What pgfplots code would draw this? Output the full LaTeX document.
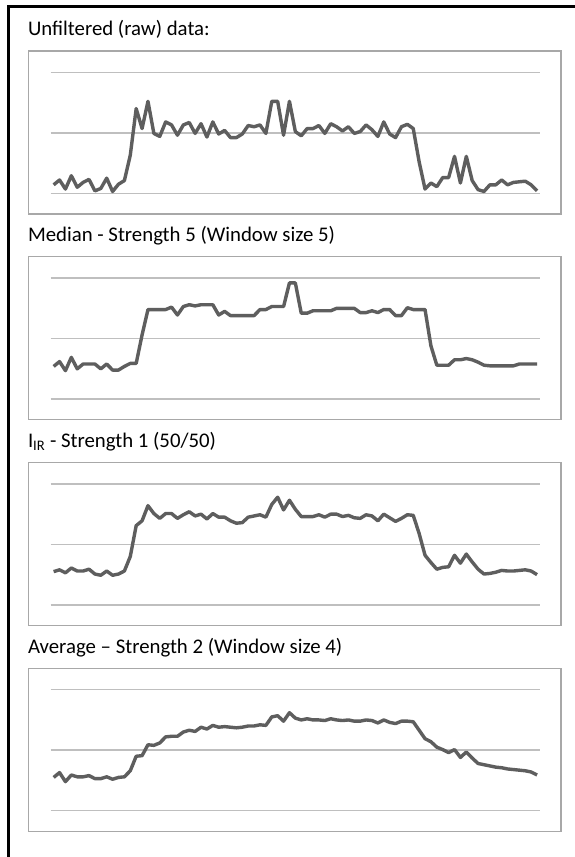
\documentclass[border=0pt]{standalone}
\usepackage{pgfplots}
\pgfplotsset{compat=1.18}
\usepackage{pgfplotstable}
\usepackage{fontspec}
\setmainfont{Carlito}

\definecolor{frame}{HTML}{A8A8A8}
\definecolor{grid}{HTML}{A5A5A5}
\definecolor{series}{HTML}{5E5E5E}

% columns: raw, median (window 5), IIR (50/50), average (window 4)
\pgfplotstableread{
idx raw  med  iir  avg
1   0.14 0.54 0.55 0.55
2   0.22 0.62 0.58 0.63
3   0.07 0.47 0.53 0.48
4   0.29 0.69 0.61 0.59
5   0.10 0.50 0.56 0.56
6   0.18 0.58 0.56 0.56
7   0.23 0.58 0.59 0.58
8   0.04 0.58 0.51 0.53
9   0.08 0.50 0.49 0.53
10  0.25 0.58 0.56 0.56
11  0.03 0.48 0.49 0.52
12  0.15 0.48 0.51 0.55
13  0.21 0.54 0.56 0.56
14  0.63 0.59 0.80 0.66
15  1.40 0.59 1.31 0.90
16  1.07 1.06 1.39 0.91
17  1.52 1.48 1.64 1.09
18  0.99 1.48 1.51 1.08
19  0.94 1.48 1.43 1.12
20  1.18 1.48 1.51 1.22
21  1.13 1.52 1.51 1.23
22  0.96 1.39 1.43 1.23
23  1.13 1.53 1.49 1.30
24  1.17 1.56 1.54 1.33
25  0.99 1.54 1.47 1.31
26  1.15 1.56 1.50 1.38
27  0.93 1.56 1.42 1.35
28  1.18 1.56 1.51 1.41
29  0.98 1.39 1.45 1.38
30  1.04 1.45 1.45 1.39
31  0.92 1.38 1.39 1.38
32  0.92 1.38 1.35 1.37
33  0.98 1.38 1.36 1.38
34  1.12 1.38 1.45 1.40
35  1.10 1.38 1.47 1.40
36  1.13 1.48 1.49 1.42
37  0.99 1.48 1.45 1.41
38  1.52 1.53 1.66 1.55
39  1.52 1.53 1.78 1.57
40  0.96 1.53 1.57 1.48
41  1.52 1.92 1.73 1.62
42  1.02 1.92 1.58 1.53
43  0.95 1.42 1.46 1.50
44  1.07 1.42 1.46 1.52
45  1.07 1.46 1.46 1.50
46  1.12 1.46 1.49 1.50
47  0.99 1.46 1.45 1.49
48  1.15 1.46 1.50 1.52
49  1.10 1.50 1.50 1.50
50  1.03 1.50 1.46 1.49
51  1.10 1.50 1.48 1.50
52  0.99 1.50 1.44 1.48
53  1.02 1.43 1.43 1.48
54  1.13 1.43 1.49 1.50
55  1.05 1.46 1.47 1.49
56  0.94 1.43 1.39 1.45
57  1.18 1.48 1.50 1.50
58  0.98 1.48 1.44 1.46
59  0.92 1.38 1.38 1.44
60  1.10 1.38 1.43 1.48
61  1.14 1.51 1.49 1.48
62  1.07 1.48 1.48 1.47
63  0.52 1.48 1.18 1.33
64  0.07 1.48 0.82 1.19
65  0.17 0.88 0.70 1.14
66  0.11 0.56 0.59 1.05
67  0.26 0.56 0.62 1.01
68  0.26 0.56 0.63 0.96
69  0.61 0.65 0.82 1.01
70  0.17 0.65 0.69 0.88
71  0.61 0.67 0.84 0.97
72  0.21 0.65 0.71 0.87
73  0.06 0.61 0.59 0.78
74  0.03 0.56 0.51 0.76
75  0.14 0.55 0.52 0.74
76  0.14 0.55 0.54 0.72
77  0.22 0.55 0.57 0.71
78  0.14 0.55 0.56 0.69
79  0.18 0.55 0.56 0.68
80  0.19 0.58 0.57 0.67
81  0.20 0.58 0.58 0.66
82  0.14 0.58 0.56 0.64
83  0.04 0.58 0.50 0.59
}\filtered

\pgfplotsset{
  panel/.style={
    scale only axis,
    width=489.3pt, height=121pt,
    anchor=south west,
    xmin=0.5, xmax=83.5,
    ymin=0, ymax=2,
    xtick=\empty,
    ytick={0,1,2},
    yticklabels={},
    ymajorgrids,
    major grid style={grid, line width=1.5pt},
    axis line style={draw=none},
    tick style={draw=none},
    clip=false,
  },
  trace/.style={series, line width=3.4pt, line join=round, no marks},
}

\begin{document}
\begin{tikzpicture}
\useasboundingbox (0pt,0pt) rectangle (575pt,857pt);
\fill[white] (0pt,0pt) rectangle (575pt,857pt);

% outer frame (only left and top edges are in view)
\draw[black, line width=2.6pt] (8.7pt,-5pt) -- (8.7pt,850.3pt) -- (580pt,850.3pt);

% panel boxes
\foreach \yb in {643, 437.2, 231.4, 25.6}
  \draw[frame, line width=1.4pt] (28.7pt,\yb pt) rectangle (561pt,\yb pt+163pt);

% titles
\tikzset{ttl/.style={anchor=base west, inner sep=0pt, font=\fontsize{20.8}{25}\selectfont}}
\node[ttl] at (27.8pt,821pt) {Unfiltered (raw) data:};
\node[ttl] at (27.8pt,615.2pt) {Median - Strength 5 (Window size 5)};
\node[ttl] at (27.8pt,409.4pt) {I\textsubscript{IR} - Strength 1 (50/50)};
\node[ttl] at (27.8pt,203.6pt) {Average – Strength 2 (Window size 4)};

\begin{axis}[panel, at={(50.7pt,663.7pt)}]
  \addplot[trace] table[x=idx, y=raw] {\filtered};
\end{axis}

\begin{axis}[panel, at={(50.7pt,457.9pt)}]
  \addplot[trace] table[x=idx, y=med] {\filtered};
\end{axis}

\begin{axis}[panel, at={(50.7pt,252.1pt)}]
  \addplot[trace] table[x=idx, y=iir] {\filtered};
\end{axis}

\begin{axis}[panel, at={(50.7pt,46.3pt)}]
  \addplot[trace] table[x=idx, y=avg] {\filtered};
\end{axis}
\end{tikzpicture}
\end{document}
